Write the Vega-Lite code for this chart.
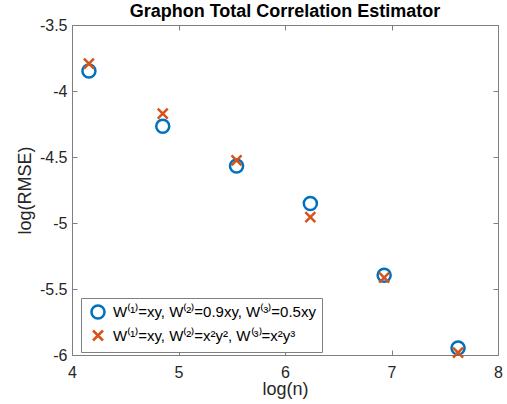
{
  "$schema": "https://vega.github.io/schema/vega-lite/v6.json",
  "width": 426,
  "height": 330,
  "autosize": {"type": "none"},
  "padding": {"left": 72, "top": 25, "right": 9, "bottom": 49},
  "background": "white",
  "title": {"text": "Graphon Total Correlation Estimator", "font": "Liberation Sans", "fontSize": 18, "fontWeight": "bold", "color": "#000000", "anchor": "middle", "baseline": "alphabetic", "offset": 6, "dy": 24},
  "config": {
    "view": {"stroke": null},
    "axis": {"grid": false, "domainColor": "#7f7f7f", "tickColor": "#7f7f7f", "labelFont": "Liberation Sans", "labelFontSize": 16, "labelColor": "#262626", "titleFont": "Liberation Sans", "titleFontSize": 18, "titleColor": "#262626", "titleFontWeight": "normal"}
  },
  "data": {"values": [
    {"logn": 4.159, "rmse": -3.848, "s": "W⁽¹⁾=xy, W⁽²⁾=0.9xy, W⁽³⁾=0.5xy"},
    {"logn": 4.852, "rmse": -4.267, "s": "W⁽¹⁾=xy, W⁽²⁾=0.9xy, W⁽³⁾=0.5xy"},
    {"logn": 5.545, "rmse": -4.568, "s": "W⁽¹⁾=xy, W⁽²⁾=0.9xy, W⁽³⁾=0.5xy"},
    {"logn": 6.238, "rmse": -4.852, "s": "W⁽¹⁾=xy, W⁽²⁾=0.9xy, W⁽³⁾=0.5xy"},
    {"logn": 6.931, "rmse": -5.396, "s": "W⁽¹⁾=xy, W⁽²⁾=0.9xy, W⁽³⁾=0.5xy"},
    {"logn": 7.625, "rmse": -5.947, "s": "W⁽¹⁾=xy, W⁽²⁾=0.9xy, W⁽³⁾=0.5xy"},
    {"logn": 4.159, "rmse": -3.792, "s": "W⁽¹⁾=xy, W⁽²⁾=x²y², W⁽³⁾=x²y³"},
    {"logn": 4.852, "rmse": -4.171, "s": "W⁽¹⁾=xy, W⁽²⁾=x²y², W⁽³⁾=x²y³"},
    {"logn": 5.545, "rmse": -4.525, "s": "W⁽¹⁾=xy, W⁽²⁾=x²y², W⁽³⁾=x²y³"},
    {"logn": 6.238, "rmse": -4.955, "s": "W⁽¹⁾=xy, W⁽²⁾=x²y², W⁽³⁾=x²y³"},
    {"logn": 6.931, "rmse": -5.413, "s": "W⁽¹⁾=xy, W⁽²⁾=x²y², W⁽³⁾=x²y³"},
    {"logn": 7.625, "rmse": -5.982, "s": "W⁽¹⁾=xy, W⁽²⁾=x²y², W⁽³⁾=x²y³"}
  ]},
  "layer": [
    {
      "mark": {"type": "point", "opacity": 0},
      "encoding": {
        "x": {"field": "logn", "type": "quantitative", "scale": {"domain": [4, 8], "nice": false, "zero": false}, "axis": {"orient": "top", "labels": false, "title": null, "values": [4, 5, 6, 7, 8], "tickSize": -5, "minExtent": 0, "maxExtent": 0}},
        "y": {"field": "rmse", "type": "quantitative", "scale": {"domain": [-6, -3.5], "nice": false, "zero": false}, "axis": {"orient": "right", "labels": false, "title": null, "values": [-6, -5.5, -5, -4.5, -4, -3.5], "tickSize": -5, "minExtent": 0, "maxExtent": 0}}
      }
    },
    {
      "mark": {"type": "point", "filled": false, "strokeWidth": 2.5, "opacity": 1},
      "encoding": {
        "x": {"field": "logn", "type": "quantitative", "axis": {"orient": "bottom", "title": "log(n)", "values": [4, 5, 6, 7, 8], "tickSize": -5, "labelPadding": 14, "labelFlush": false, "titleX": 213, "titleY": 34.5, "titleBaseline": "middle", "titleAnchor": "middle", "labelExpr": "replace(format(datum.value, '~g'), '−', '-')"}},
        "y": {"field": "rmse", "type": "quantitative", "axis": {"orient": "left", "title": "log(RMSE)", "values": [-6, -5.5, -5, -4.5, -4, -3.5], "tickSize": -5, "labelPadding": 10, "labelFlush": false, "titleX": -46.5, "titleY": 165, "titleAngle": -90, "titleBaseline": "middle", "titleAnchor": "middle", "labelExpr": "replace(format(datum.value, '~g'), '−', '-')"}},
        "color": {"field": "s", "type": "nominal", "scale": {"domain": ["W⁽¹⁾=xy, W⁽²⁾=0.9xy, W⁽³⁾=0.5xy", "W⁽¹⁾=xy, W⁽²⁾=x²y², W⁽³⁾=x²y³"], "range": ["#0072BD", "#D95319"]},
          "legend": {"title": null, "orient": "none", "legendX": 9, "legendY": 273, "strokeColor": "#7f7f7f", "fillColor": "white", "padding": 6, "labelFont": "Liberation Sans", "labelFontSize": 15, "labelColor": "#000000", "symbolStrokeWidth": 2.5, "symbolSize": 100, "symbolOffset": 3, "labelOffset": 7, "rowPadding": 1, "labelLimit": 400}},
        "shape": {"field": "s", "type": "nominal", "scale": {"domain": ["W⁽¹⁾=xy, W⁽²⁾=0.9xy, W⁽³⁾=0.5xy", "W⁽¹⁾=xy, W⁽²⁾=x²y², W⁽³⁾=x²y³"], "range": ["circle", "M-1,-1L1,1M-1,1L1,-1"]}},
        "size": {"field": "s", "type": "nominal", "scale": {"domain": ["W⁽¹⁾=xy, W⁽²⁾=0.9xy, W⁽³⁾=0.5xy", "W⁽¹⁾=xy, W⁽²⁾=x²y², W⁽³⁾=x²y³"], "range": [170, 100]}, "legend": null}
      }
    }
  ],
  "resolve": {"axis": {"x": "independent", "y": "independent"}}
}
